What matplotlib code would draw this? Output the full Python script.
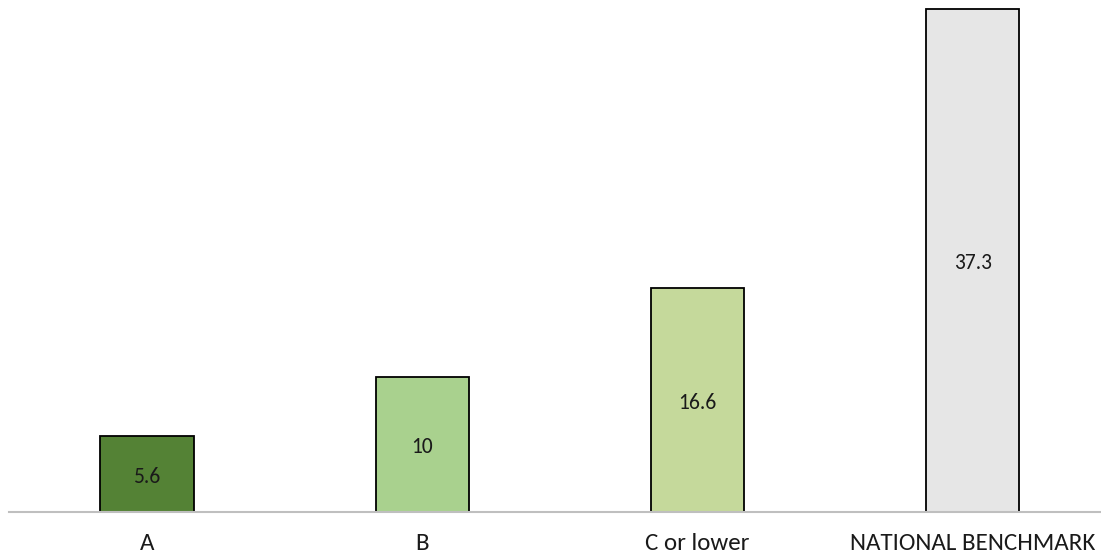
import matplotlib
matplotlib.use("Agg")
import matplotlib.pyplot as plt
from matplotlib import font_manager

categories = ["A", "B", "C or lower", "NATIONAL BENCHMARK"]
values = [5.6, 10, 16.6, 37.3]
bar_colors = ["#548235", "#A9D18E", "#C5D99B", "#E6E6E6"]

names = {f.name for f in font_manager.fontManager.ttflist}
family = "Carlito" if "Carlito" in names else "Lato"
plt.rcParams["font.family"] = [family, "DejaVu Sans"]

W, H = 1101, 559
fig = plt.figure(figsize=(W / 100, H / 100), dpi=100)
base_px = 512
ax = fig.add_axes([0, (H - base_px) / H, 1, base_px / H])

x = list(range(len(categories)))
ax.bar(x, values, width=0.338, color=bar_colors, edgecolor="black", linewidth=1.3, zorder=2)

# x positions: first category centred at 147 px, spacing ~275 px
left = (0 - 147) / 275.3
right = (W - 147) / 275.3
ax.set_xlim(left, right)
ax.set_ylim(0, 37.3 * base_px / 503)

for xi, v in zip(x, values):
    ax.annotate(f"{v:g}", (xi, v / 2), xytext=(0, -2), textcoords="offset points",
                ha="center", va="center", fontsize=15.5, color="#1a1a1a")

for s in ["top", "right", "left"]:
    ax.spines[s].set_visible(False)
ax.spines["bottom"].set_color("#BFBFBF")
ax.spines["bottom"].set_linewidth(1.5)
ax.spines["bottom"].set_bounds((9 - 147) / 275.3, right)
ax.spines["bottom"].set_zorder(3)

ax.set_yticks([])
ax.set_xticks(x)
ax.set_xticklabels(categories, fontsize=18, color="#1a1a1a")
ax.tick_params(axis="x", length=0, pad=15)

fig.savefig("out.png", dpi=100)
